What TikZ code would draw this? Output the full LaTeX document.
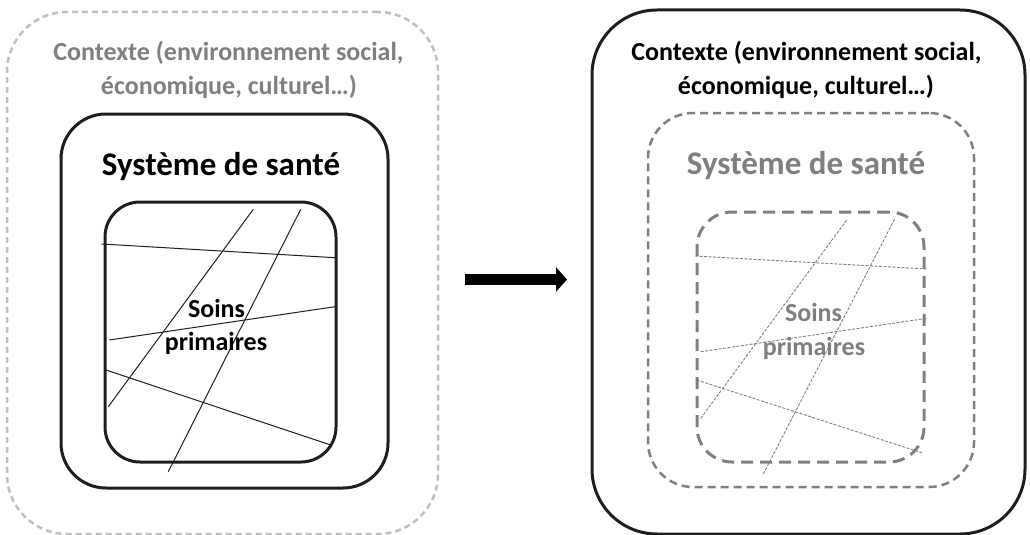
\documentclass[tikz,border=0pt]{standalone}
\usepackage{fontspec}
\setmainfont{Carlito}
\usetikzlibrary{arrows.meta}
\definecolor{lightg}{HTML}{BFBFBF}
\definecolor{midg}{HTML}{7F7F7F}
\definecolor{dark}{HTML}{1E1E1E}
\begin{document}
\begin{tikzpicture}[x=1pt,y=-1pt,
  box/.style={rectangle,inner sep=0pt,outer sep=0pt},
  solidbox/.style={box,draw=dark,line width=3pt},
  outerdash/.style={box,draw=lightg,line width=2.5pt,dash pattern=on 6pt off 4pt},
  middash/.style={box,draw=midg,line width=2.5pt,dash pattern=on 8pt off 5pt},
  innerdash/.style={box,draw=midg,line width=3pt,dash pattern=on 12pt off 7pt},
  ctx/.style={font=\fontsize{26}{34}\selectfont\bfseries,anchor=base,inner sep=0pt},
  sys/.style={font=\fontsize{33}{40}\selectfont\bfseries,anchor=base,inner sep=0pt},
  soin/.style={font=\fontsize{26}{34}\selectfont\bfseries,anchor=base,inner sep=0pt},
  hatch/.style={line width=1pt,draw=dark},
  hatchd/.style={line width=0.9pt,draw=midg,dash pattern=on 3pt off 1.5pt},
]
\useasboundingbox (0,0) rectangle (1030,535);
% left panel
\node[outerdash,rounded corners=60pt,minimum width=431pt,minimum height=522pt] (lo) at (222.5,273) {};
\node[solidbox,rounded corners=45pt,minimum width=327pt,minimum height=374pt] (lm) at (224.5,301) {};
\node[solidbox,rounded corners=35pt,minimum width=231pt,minimum height=260pt] (li) at (220.5,332) {};
\draw[hatch] (101.7,244) -- (335,257.7);
\draw[hatch] (109.3,340) -- (335,306.7);
\draw[hatch] (106,370) -- (330.7,445);
\draw[hatch] (108.3,406.7) -- (253.3,209.3);
\draw[hatch] (168.3,471.7) -- (300.7,209.3);
\node[ctx,text=midg] (lt1) at (228.5,60.7) {Contexte (environnement social,};
\node[ctx,text=midg] (lt2) at (229,94.5) {économique, culturel…)};
\node[sys,text=black] (ls) at (221,175.5) {Système de santé};
\node[soin,text=black] (lp1) at (216.5,317) {Soins};
\node[soin,text=black] (lp2) at (216,350) {primaires};
% arrow
\coordinate (as) at (465,279.5);
\coordinate (ae) at (567,279.5);
\draw[line width=11pt,-{Triangle[length=11pt,width=24pt]}] (as) -- (ae);
% right panel
\node[solidbox,rounded corners=65pt,minimum width=433pt,minimum height=524pt] (ro) at (808.5,272) {};
\node[middash,rounded corners=45pt,minimum width=326pt,minimum height=374pt] (rm) at (811,300) {};
\node[innerdash,rounded corners=35pt,minimum width=227pt,minimum height=250pt] (ri) at (810.5,337) {};
\draw[hatchd] (695,256) -- (926.7,269);
\draw[hatchd] (700.7,351.7) -- (926.7,318.3);
\draw[hatchd] (696.7,380) -- (921.7,452.7);
\draw[hatchd] (700.7,418.3) -- (846.7,220);
\draw[hatchd] (763.3,474) -- (895,218.3);
\node[ctx,text=black] (rt1) at (806.5,60.7) {Contexte (environnement social,};
\node[ctx,text=black] (rt2) at (806,94.5) {économique, culturel…)};
\node[sys,text=midg] (rs) at (806,174.5) {Système de santé};
\node[soin,text=midg] (rp1) at (813.5,321) {Soins};
\node[soin,text=midg] (rp2) at (814,355) {primaires};
\end{tikzpicture}
\end{document}
